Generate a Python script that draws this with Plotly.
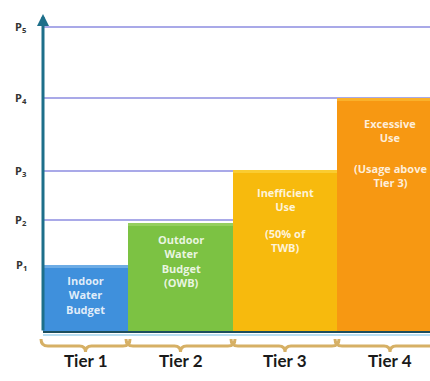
import plotly.graph_objects as go

# ---- data ----
tiers = ["Tier 1", "Tier 2", "Tier 3", "Tier 4"]
tier_left = [0, 85, 190, 294]
tier_width = [85, 105, 104, 106]
tier_height = [67, 109, 162, 234]
tier_colors = ["#3f90dc", "#7cc243", "#f7ba0d", "#f79812"]
tier_highlight = ["#8cc0ec", "#a6d873", "#fcd84a", "#fcc23a"]
tier_text_main = ["Indoor<br>Water<br>Budget", "Outdoor<br>Water<br>Budget<br>(OWB)",
                  "Inefficient<br>Use", "Excessive<br>Use"]
tier_text_main_y = [37, 71, 133, 202]
tier_text_sub = ["", "", "(50% of<br>TWB)", "(Usage above<br>Tier 3)"]
tier_text_sub_y = [0, 0, 92, 157]
price_labels = ["P<sub>1</sub>", "P<sub>2</sub>", "P<sub>3</sub>", "P<sub>4</sub>", "P<sub>5</sub>"]
price_levels = [67, 112, 161, 234, 305]

centers = [l + w / 2 for l, w in zip(tier_left, tier_width)]

fig = go.Figure()
fig.add_trace(go.Bar(x=centers, y=tier_height, width=tier_width, base=0,
                     marker=dict(color=tier_colors, line=dict(width=0)),
                     hoverinfo="skip", showlegend=False))
# soft top highlight band
fig.add_trace(go.Bar(x=centers, y=[3] * 4, width=tier_width,
                     base=[h - 3 for h in tier_height],
                     marker=dict(color=tier_highlight, line=dict(width=0)),
                     opacity=0.6, hoverinfo="skip", showlegend=False))

shapes = []
for p in price_levels[1:]:
    shapes.append(dict(type="line", xref="x", yref="y", x0=0, x1=400, y0=p, y1=p,
                       line=dict(color="#8c8ce0", width=1.5), layer="below"))
# baseline
shapes.append(dict(type="line", xref="x", yref="y", x0=0, x1=400, y0=0, y1=0,
                   line=dict(color="#1c4f5e", width=2)))
shapes.append(dict(type="line", xref="x", yref="y", x0=0, x1=400, y0=-3, y1=-3,
                   line=dict(color="#9fd3ee", width=1.5)))

# braces
for l, w in zip(tier_left, tier_width):
    x0, x1 = l - 2, l + w + 2
    xm = (x0 + x1) / 2
    yt, ym, yb = -7, -14, -20
    path = (f"M {x0},{yt} Q {x0},{ym} {x0+7},{ym} L {xm-6},{ym} Q {xm},{ym} {xm},{yb} "
            f"Q {xm},{ym} {xm+6},{ym} L {x1-7},{ym} Q {x1},{ym} {x1},{yt}")
    shapes.append(dict(type="path", xref="x", yref="y", path=path,
                       line=dict(color="#d6b065", width=3)))

annotations = []
# y axis with arrow
annotations.append(dict(x=0, y=318, ax=0, ay=0, xref="x", yref="y", axref="x", ayref="y",
                        showarrow=True, arrowhead=2, arrowsize=0.8, arrowwidth=3,
                        arrowcolor="#1d6f8a", text=""))
for lab, p in zip(price_labels, price_levels):
    annotations.append(dict(x=-22, y=p, xref="x", yref="y", text=f"<b>{lab}</b>",
                            showarrow=False, font=dict(size=11, color="#333333",
                                                        family="Open Sans")))
for t, c in zip(tiers, centers):
    annotations.append(dict(x=c, y=-28, xref="x", yref="y", text=f"<b>{t}</b>", showarrow=False,
                            font=dict(size=17, color="#1a1a1a", family="Lato")))
for txt, ty, c in zip(tier_text_main, tier_text_main_y, centers):
    annotations.append(dict(x=c, y=ty, xref="x", yref="y", text=f"<b>{txt}</b>",
                            showarrow=False,
                            font=dict(size=11, color="rgba(255,255,255,0.85)", family="Open Sans")))
for txt, ty, c in zip(tier_text_sub, tier_text_sub_y, centers):
    if txt:
        annotations.append(dict(x=c, y=ty, xref="x", yref="y", text=f"<b>{txt}</b>",
                                showarrow=False,
                                font=dict(size=11, color="rgba(255,255,255,0.85)", family="Open Sans")))

fig.update_layout(
    width=430, height=381, margin=dict(l=0, r=0, t=0, b=0),
    paper_bgcolor="white", plot_bgcolor="white",
    xaxis=dict(range=[-43, 387], visible=False, fixedrange=True),
    yaxis=dict(range=[-49, 332], visible=False, fixedrange=True),
    barmode="overlay", bargap=0,
    shapes=shapes, annotations=annotations,
)
fig.write_html("out.html")
